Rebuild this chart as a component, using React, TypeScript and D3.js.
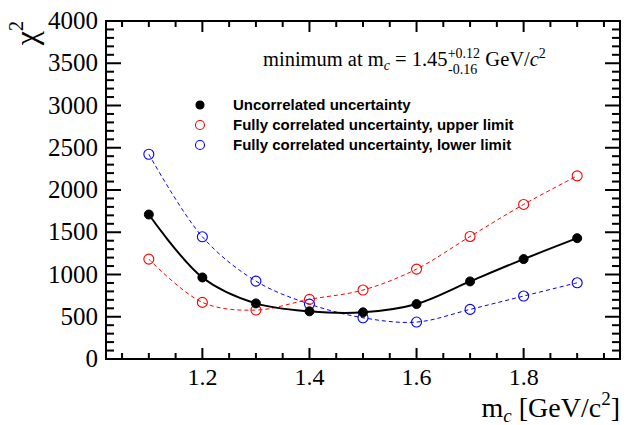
import React from 'react';
import * as d3 from 'd3';

const masses = [1.1, 1.2, 1.3, 1.4, 1.5, 1.6, 1.7, 1.8, 1.9];
const uncorrelated = [1710, 965, 658, 564, 552, 650, 918, 1182, 1430];
const upperLimit = [1182, 670, 579, 706, 816, 1064, 1450, 1829, 2167];
const lowerLimit = [2423, 1446, 922, 650, 488, 437, 587, 745, 902];
const xTicks = [1.2, 1.4, 1.6, 1.8];
const yTicks = [0, 500, 1000, 1500, 2000, 2500, 3000, 3500, 4000];

const legendItems = [
  { label: 'Uncorrelated uncertainty', color: '#000', filled: true },
  { label: 'Fully correlated uncertainty, upper limit', color: '#ff0000', filled: false },
  { label: 'Fully correlated uncertainty, lower limit', color: '#0000ff', filled: false },
];

const W = 633;
const H = 425;
const left = 106;
const right = 620;
const top = 21;
const bottom = 359;

export default function App() {
  const x = d3.scaleLinear().domain([1.02, 1.98]).range([left, right]);
  const y = d3.scaleLinear().domain([0, 4000]).range([bottom, top]);

  const line = d3
    .line<number>()
    .x((_, i) => x(masses[i]))
    .y((d) => y(d))
    .curve(d3.curveCatmullRom.alpha(0.5));

  const xMinor = d3.range(1.05, 1.98, 0.05).filter((v) => !xTicks.some((t) => Math.abs(t - v) < 1e-6));
  const yMinor = d3.range(100, 4000, 100).filter((v) => v % 500 !== 0);

  const serif = "'Liberation Serif', 'Times New Roman', serif";
  const sans = "'Liberation Sans', Arial, sans-serif";

  const series = [
    { data: lowerLimit, color: '#0000ff', dash: '4,3', width: 1, filled: false },
    { data: upperLimit, color: '#ff0000', dash: '4,3', width: 1, filled: false },
    { data: uncorrelated, color: '#000', dash: null, width: 2, filled: true },
  ];

  return (
    <svg width={W} height={H} style={{ position: 'absolute', left: 0, top: 0, background: '#fff' }}>
      <rect x={0} y={0} width={W} height={H} fill="#fff" />

      {/* curves and markers */}
      {series.map((s, si) => (
        <g key={si}>
          <path
            d={line(s.data) || ''}
            fill="none"
            stroke={s.color}
            strokeWidth={s.width}
            strokeDasharray={s.dash || undefined}
          />
          {s.data.map((d, i) => (
            <circle
              key={i}
              cx={x(masses[i])}
              cy={y(d)}
              r={s.filled ? 4.5 : 5}
              fill={s.filled ? s.color : 'none'}
              stroke={s.color}
              strokeWidth={s.filled ? 1 : 1.1}
            />
          ))}
        </g>
      ))}

      {/* frame */}
      <rect x={left} y={top} width={right - left} height={bottom - top} fill="none" stroke="#000" strokeWidth={2} />

      {/* x ticks */}
      {xTicks.map((t) => (
        <g key={'xt' + t}>
          <line x1={x(t)} x2={x(t)} y1={bottom} y2={bottom - 11} stroke="#000" strokeWidth={2} />
          <line x1={x(t)} x2={x(t)} y1={top} y2={top + 11} stroke="#000" strokeWidth={2} />
          <text x={x(t)} y={385} textAnchor="middle" fontFamily={serif} fontSize={24}>
            {t.toFixed(1)}
          </text>
        </g>
      ))}
      {xMinor.map((t, i) => (
        <g key={'xm' + i}>
          <line x1={x(t)} x2={x(t)} y1={bottom} y2={bottom - 6} stroke="#000" strokeWidth={2} />
          <line x1={x(t)} x2={x(t)} y1={top} y2={top + 6} stroke="#000" strokeWidth={2} />
        </g>
      ))}

      {/* y ticks */}
      {yTicks.map((t) => (
        <g key={'yt' + t}>
          <line x1={left} x2={left + 15} y1={y(t)} y2={y(t)} stroke="#000" strokeWidth={2} />
          <line x1={right} x2={right - 15} y1={y(t)} y2={y(t)} stroke="#000" strokeWidth={2} />
          <text x={98} y={y(t) + 8} textAnchor="end" fontFamily={serif} fontSize={25}>
            {t}
          </text>
        </g>
      ))}
      {yMinor.map((t) => (
        <g key={'ym' + t}>
          <line x1={left} x2={left + 8} y1={y(t)} y2={y(t)} stroke="#000" strokeWidth={2} />
          <line x1={right} x2={right - 8} y1={y(t)} y2={y(t)} stroke="#000" strokeWidth={2} />
        </g>
      ))}

      {/* axis titles */}
      <text
        transform={`translate(37,${top}) rotate(-90)`}
        textAnchor="end"
        fontFamily={serif}
        fontSize={32}
      >
        χ<tspan fontSize={20} dy={-14}>2</tspan>
      </text>
      <text x={right} y={417} textAnchor="end" fontFamily={serif} fontSize={28}>
        m<tspan fontSize={19} fontStyle="italic" dy={5}>c</tspan>
        <tspan dy={-5}> [GeV/c</tspan>
        <tspan fontSize={19} dy={-12}>2</tspan>
        <tspan dy={12}>]</tspan>
      </text>

      {/* annotation */}
      <text x={263} y={66} fontFamily={serif} fontSize={20.5}>
        minimum at m<tspan fontSize={14} fontStyle="italic" dy={4}>c</tspan>
        <tspan dy={-4}> = 1.45</tspan>
        <tspan fontSize={14} dy={-8}>+0.12</tspan>
        <tspan fontSize={14} dx={-32} dy={16}>-0.16</tspan>
        <tspan dx={3} dy={-8}> GeV/</tspan>
        <tspan fontStyle="italic">c</tspan>
        <tspan fontSize={14} dy={-8}>2</tspan>
      </text>

      {/* legend */}
      {legendItems.map((item, i) => {
        const ly = 105 + i * 20;
        return (
          <g key={item.label}>
            <circle
              cx={200}
              cy={ly}
              r={item.filled ? 4 : 4.5}
              fill={item.filled ? item.color : 'none'}
              stroke={item.color}
              strokeWidth={1.1}
            />
            <text x={233} y={ly + 5} fontFamily={sans} fontWeight="bold" fontSize={15}>
              {item.label}
            </text>
          </g>
        );
      })}
    </svg>
  );
}
